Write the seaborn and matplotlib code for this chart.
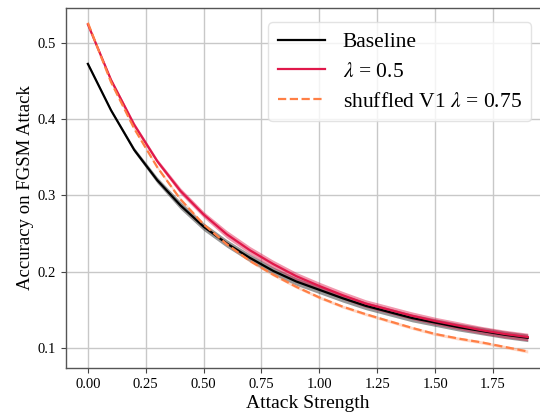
import numpy as np
import pandas as pd
import matplotlib
matplotlib.use("Agg")
import matplotlib.pyplot as plt
import seaborn as sns

strength = [0.0, 0.1, 0.2, 0.3, 0.4, 0.5, 0.6, 0.7, 0.8, 0.9,
            1.0, 1.1, 1.2, 1.3, 1.4, 1.5, 1.6, 1.7, 1.8, 1.9]
baseline = [0.473, 0.412, 0.360, 0.320, 0.287, 0.259, 0.237, 0.218, 0.201, 0.187,
            0.176, 0.165, 0.155, 0.147, 0.139, 0.133, 0.127, 0.122, 0.117, 0.113]
lam05 = [0.525, 0.452, 0.393, 0.345, 0.306, 0.275, 0.249, 0.228, 0.210, 0.194,
         0.181, 0.169, 0.158, 0.150, 0.142, 0.135, 0.129, 0.123, 0.118, 0.114]
shuffled = [0.527, 0.449, 0.388, 0.337, 0.295, 0.262, 0.236, 0.214, 0.196, 0.180,
            0.166, 0.154, 0.144, 0.135, 0.126, 0.118, 0.112, 0.107, 0.101, 0.095]
baseline_err = [0.002, 0.002, 0.003, 0.004, 0.005, 0.005, 0.005, 0.005, 0.005, 0.005,
                0.005, 0.005, 0.005, 0.005, 0.005, 0.005, 0.005, 0.005, 0.005, 0.005]
lam05_err = [0.002, 0.002, 0.003, 0.003, 0.004, 0.004, 0.005, 0.005, 0.005, 0.005,
             0.005, 0.005, 0.005, 0.005, 0.005, 0.005, 0.005, 0.005, 0.005, 0.005]
shuffled_err = [0.002, 0.002, 0.002, 0.002, 0.002, 0.002, 0.002, 0.002, 0.002, 0.002,
                0.002, 0.002, 0.002, 0.002, 0.002, 0.002, 0.002, 0.002, 0.002, 0.002]
labels = ["Baseline", r"$\lambda$ = 0.5", r"shuffled V1 $\lambda$ = 0.75"]
colors = ["#000000", "#E0184A", "#FF7F45"]
band_colors = ["#444444", "#E0184A", "#FF7F45"]
band_alpha = [0.55, 0.45, 0.3]
styles = ["-", "-", "--"]

plt.rcParams["font.family"] = ["Liberation Serif", "DejaVu Serif"]
plt.rcParams["mathtext.fontset"] = "stix"

fig = plt.figure(figsize=(5.4, 4.18), dpi=100)
ax = fig.add_axes([0.122, 0.12, 0.896, 0.861])
ax.set_axisbelow(True)
ax.grid(True, color="#c8c8c8", linewidth=1.0)

series = [baseline, lam05, shuffled]
errs = [baseline_err, lam05_err, shuffled_err]
x = np.array(strength)
for vals, err, lab, col, bcol, ba, ls in zip(series, errs, labels, colors, band_colors,
                                             band_alpha, styles):
    v = np.array(vals)
    e = np.array(err)
    ax.fill_between(x, v - e, v + e, color=bcol, alpha=ba, linewidth=0)
    df = pd.DataFrame({"x": x, "y": v})
    sns.lineplot(data=df, x="x", y="y", ax=ax, color=col, linestyle=ls,
                 linewidth=1.6, label=lab)

ax.set_xlim(-0.095, 1.995)
ax.set_ylim(0.0735, 0.5465)
ax.set_xticks([0.0, 0.25, 0.5, 0.75, 1.0, 1.25, 1.5, 1.75])
ax.set_xticklabels(["0.00", "0.25", "0.50", "0.75", "1.00", "1.25", "1.50", "1.75"])
ax.set_yticks([0.1, 0.2, 0.3, 0.4, 0.5])
ax.set_yticklabels(["0.1", "0.2", "0.3", "0.4", "0.5"])
ax.tick_params(labelsize=10.5, color="#444444", length=3.5)
for sp in ax.spines.values():
    sp.set_color("#555555")
    sp.set_linewidth(1.0)
ax.set_xlabel("Attack Strength", fontsize=14, labelpad=3)
ax.set_ylabel("Accuracy on FGSM Attack", fontsize=13.5, labelpad=3)

leg = ax.legend(loc="upper right", bbox_to_anchor=(0.984, 0.99), fontsize=15.5,
                frameon=True, handlelength=2.2, borderpad=0.45, labelspacing=0.45)
leg.get_frame().set_edgecolor("#dddddd")

fig.savefig("out.png", dpi=100)
